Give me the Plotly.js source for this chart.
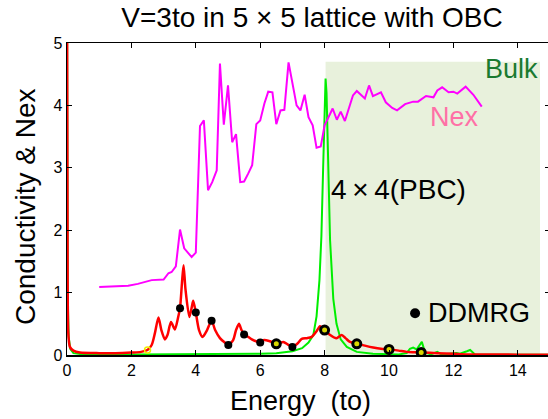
<!DOCTYPE html>
<html>
<head>
<meta charset="utf-8">
<script src="https://cdn.plot.ly/plotly-3.0.1.min.js"></script>
<style>
html, body { margin: 0; padding: 0; overflow: hidden; background: #fff; }
#chart { width: 552px; height: 419px; }
</style>
</head>
<body>
<div id="chart"></div>
<script>
// Conductivity from Lanczos on 5x5 OBC (red)
const obcX = [0.0, 0.02, 0.04, 0.09, 0.2, 0.4, 1.0, 1.5, 2.0, 2.3, 2.5, 2.63, 2.73, 2.84, 2.93, 3.04, 3.12, 3.23, 3.35, 3.45, 3.51, 3.57, 3.62, 3.68, 3.8, 3.88, 3.92, 4.0, 4.1, 4.21, 4.35, 4.49, 4.6, 4.75, 4.9, 5.01, 5.16, 5.25, 5.34, 5.42, 5.5, 5.6, 5.74, 5.87, 5.99, 6.12, 6.3, 6.51, 6.72, 6.85, 7.0, 7.15, 7.29, 7.45, 7.6, 7.75, 7.86, 8.0, 8.15, 8.37, 8.53, 8.65, 8.79, 9.02, 9.25, 9.51, 9.75, 10.01, 10.3, 10.55, 10.8, 11.02, 11.5, 12.0, 12.4, 13.0, 14.0, 15.0];
const obcY = [6.0, 1.2, 0.35, 0.13, 0.07, 0.04, 0.03, 0.03, 0.04, 0.05, 0.08, 0.16, 0.35, 0.60, 0.40, 0.25, 0.32, 0.53, 0.41, 0.60, 0.75, 1.15, 1.44, 1.05, 0.61, 0.78, 0.87, 0.68, 0.40, 0.29, 0.40, 0.55, 0.40, 0.27, 0.20, 0.16, 0.24, 0.40, 0.50, 0.40, 0.33, 0.30, 0.25, 0.22, 0.20, 0.24, 0.22, 0.18, 0.21, 0.17, 0.13, 0.18, 0.26, 0.27, 0.29, 0.38, 0.46, 0.40, 0.33, 0.27, 0.32, 0.27, 0.21, 0.18, 0.15, 0.12, 0.10, 0.09, 0.07, 0.05, 0.045, 0.04, 0.03, 0.02, 0.01, 0.01, 0.005, 0.005];

// Bulk 4x4 PBC (green)
const bulkX = [0.0, 0.02, 0.05, 0.1, 0.2, 0.5, 2.0, 4.0, 6.0, 6.5, 7.0, 7.3, 7.5, 7.65, 7.75, 7.84, 7.9, 7.95, 8.0, 8.03, 8.06, 8.11, 8.17, 8.27, 8.37, 8.5, 8.69, 9.0, 9.5, 10.3, 10.55, 10.65, 10.75, 10.86, 10.95, 11.02, 11.12, 11.3, 11.5, 11.63, 12.1, 12.2, 12.42, 12.52, 12.67, 13.0, 15.0];
const bulkY = [6.0, 1.0, 0.3, 0.1, 0.03, 0.01, 0.01, 0.01, 0.02, 0.03, 0.06, 0.11, 0.2, 0.32, 0.62, 1.2, 1.9, 2.9, 4.2, 4.43, 4.2, 3.0, 1.84, 0.9, 0.5, 0.25, 0.13, 0.05, 0.02, 0.01, 0.03, 0.10, 0.12, 0.09, 0.17, 0.21, 0.04, 0.01, 0.05, 0.01, 0.03, 0.02, 0.06, 0.08, 0.01, 0.005, 0.005];

// Nex (magenta)
const nexX = [1.0, 1.9, 2.2, 2.63, 3.0, 3.06, 3.15, 3.25, 3.38, 3.51, 3.64, 3.87, 4.0, 4.13, 4.25, 4.38, 4.51, 4.65, 4.75, 4.87, 5.0, 5.13, 5.25, 5.38, 5.5, 5.63, 5.75, 5.88, 6.0, 6.13, 6.25, 6.38, 6.5, 6.63, 6.75, 6.88, 7.13, 7.25, 7.38, 7.5, 7.63, 7.75, 7.88, 8.0, 8.12, 8.25, 8.38, 8.5, 8.63, 8.88, 9.0, 9.25, 9.38, 9.5, 9.75, 9.9, 10.1, 10.25, 10.5, 10.75, 10.9, 11.15, 11.38, 11.5, 11.65, 11.85, 12.0, 12.12, 12.38, 12.62, 12.88];
const nexY = [1.09, 1.11, 1.14, 1.2, 1.21, 1.25, 1.31, 1.33, 1.42, 2.01, 1.71, 1.57, 1.64, 3.67, 3.76, 2.64, 2.77, 2.96, 4.67, 3.69, 4.32, 3.41, 3.54, 2.77, 2.78, 2.91, 3.04, 3.7, 3.76, 4.03, 4.22, 4.21, 3.7, 3.92, 3.93, 4.69, 4.0, 3.92, 4.17, 3.81, 3.68, 3.32, 3.34, 3.68, 3.81, 3.95, 3.77, 3.9, 3.75, 4.16, 4.23, 4.11, 4.32, 4.15, 4.21, 4.05, 3.96, 3.92, 4.02, 4.06, 4.06, 4.15, 4.13, 4.24, 4.29, 4.21, 4.22, 4.19, 4.3, 4.17, 3.98];

// DDMRG points
const ddmrgX = [3.51, 4.0, 4.49, 5.01, 5.5, 6.0, 7.0];
const ddmrgY = [0.75, 0.68, 0.55, 0.16, 0.33, 0.20, 0.13];
const ddmrgRingX = [6.5, 8.0, 9.0, 10.0, 11.0];
const ddmrgRingY = [0.18, 0.40, 0.18, 0.09, 0.04];
const ddmrgPaleX = [2.5];
const ddmrgPaleY = [0.08];

const xTicks = [0, 2, 4, 6, 8, 10, 12, 14];
const yTicks = [0, 1, 2, 3, 4, 5];

const FONT = 'Liberation Sans, Arial, Helvetica, sans-serif';

const traces = [
  {x: bulkX, y: bulkY, mode: 'lines', line: {color: '#00ee00', width: 2}},
  {x: obcX, y: obcY, mode: 'lines', line: {color: '#ff0000', width: 2.5, shape: 'spline', smoothing: 0.7}},
  {x: nexX, y: nexY, mode: 'lines', line: {color: '#ff00ff', width: 2}},
  {x: ddmrgPaleX, y: ddmrgPaleY, mode: 'markers', marker: {size: 6, color: 'rgba(0,0,0,0)', line: {color: '#eeee00', width: 1.5}}},
  {x: ddmrgX, y: ddmrgY, mode: 'markers', marker: {size: 8, color: '#000000'}},
  {x: ddmrgRingX, y: ddmrgRingY, mode: 'markers', marker: {size: 8, color: '#d8d800', line: {color: '#000000', width: 3}}}
];

const layout = {
  width: 552, height: 419,
  margin: {l: 67, r: 2, t: 43, b: 64},
  paper_bgcolor: '#ffffff', plot_bgcolor: '#ffffff',
  showlegend: false,
  font: {family: FONT, color: '#000'},
  title: {text: 'V=3to in 5 \u00d7 5 lattice with OBC', font: {size: 28, family: FONT, color: '#000'},
          x: 312 / 552, xanchor: 'center', xref: 'container', y: 1 - 17 / 419, yanchor: 'middle', yref: 'container'},
  xaxis: {
    range: [0, 15], tickvals: xTicks, ticktext: xTicks.map(String),
    ticks: 'inside', ticklen: 5, tickwidth: 1, tickcolor: '#000',
    showline: true, linecolor: '#000', linewidth: 1.5, mirror: 'ticks',
    showgrid: false, zeroline: false,
    tickfont: {size: 16, family: FONT}
  },
  yaxis: {
    range: [0, 5], tickvals: yTicks, ticktext: yTicks.map(String),
    ticks: 'inside', ticklen: 5, tickwidth: 1, tickcolor: '#000',
    showline: true, linecolor: '#000', linewidth: 1.5, mirror: 'ticks',
    showgrid: false, zeroline: false,
    tickfont: {size: 16, family: FONT}
  },
  shapes: [
    {type: 'rect', layer: 'below', xref: 'x', yref: 'y', x0: 8.03, x1: 14.69, y0: 0, y1: 4.7,
     fillcolor: '#e8f1dc', line: {width: 0}},
    {type: 'circle', xref: 'x', yref: 'y', xsizemode: 'pixel', ysizemode: 'pixel',
     xanchor: 10.81, yanchor: 0.67, x0: -5, x1: 5, y0: -5, y1: 5, fillcolor: '#000', line: {width: 0}}
  ],
  annotations: [
    {text: 'Energy\u00a0 (to)', xref: 'paper', yref: 'paper', x: (300 - 67) / 483, y: -(401 - 355) / 312,
     xanchor: 'center', yanchor: 'middle', showarrow: false, font: {size: 27, family: FONT}},
    {text: 'Conductivity & Nex', xref: 'paper', yref: 'paper', x: -(67 - 25) / 483, y: (355 - 207) / 312,
     xanchor: 'center', yanchor: 'middle', textangle: -90, showarrow: false, font: {size: 28, family: FONT}},
    {text: 'Bulk', x: 13.8, y: 4.59, xref: 'x', yref: 'y', showarrow: false, font: {size: 27, color: '#1a7a30', family: FONT}},
    {text: 'Nex', x: 12.02, y: 3.82, xref: 'x', yref: 'y', showarrow: false, font: {size: 27, color: '#ff70a6', family: FONT}},
    {text: '4\u2009\u00d7\u20094(PBC)', x: 10.31, y: 2.66, xref: 'x', yref: 'y', showarrow: false, font: {size: 28, color: '#000', family: FONT}},
    {text: 'DDMRG', x: 12.8, y: 0.67, xref: 'x', yref: 'y', showarrow: false, font: {size: 27, color: '#000', family: FONT}}
  ]
};

Plotly.newPlot('chart', traces, layout, {staticPlot: true, displayModeBar: false});
</script>
</body>
</html>
